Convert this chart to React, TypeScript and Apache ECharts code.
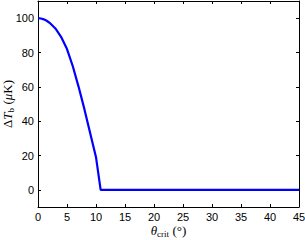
import React, { useEffect, useRef } from "react";
import * as echarts from "echarts";

const theta = [0, 0.5, 1, 1.5, 2, 3, 4, 5, 6, 7, 8, 9, 10, 10.8, 45];
const deltaT = [100, 99.8, 99.3, 98.5, 97.3, 94, 89, 82, 72, 60, 47, 33, 19, 0, 0];
const xTicks = [0, 5, 10, 15, 20, 25, 30, 35, 40, 45];
const yTicks = [0, 20, 40, 60, 80, 100];

export default function App() {
  const ref = useRef<HTMLDivElement>(null);
  useEffect(() => {
    const chart = echarts.init(ref.current!, null, { renderer: "svg" });
    const serif = "'Liberation Serif', 'DejaVu Serif', serif";
    const sans = "'Liberation Sans', Arial, sans-serif";
    const axLine = { show: true, onZero: false, lineStyle: { color: "#000", width: 1 } };
    const tick = { show: true, inside: true, length: 3, lineStyle: { color: "#000", width: 1 } };
    const rich = {
      i: { fontFamily: serif, fontStyle: "italic", fontSize: 13, color: "#000" },
      s: { fontFamily: serif, fontSize: 9, color: "#000", padding: [6, 0, 0, 0] },
      n: { fontFamily: serif, fontSize: 13, color: "#000" },
    };
    chart.setOption({
      animation: false,
      backgroundColor: "#fff",
      grid: { left: 38, right: 6, top: 1, bottom: 33, outerBoundsMode: "none", containLabel: false },
      xAxis: [
        {
          type: "value", min: 0, max: 45, position: "bottom",
          axisLine: axLine,
          axisTick: { ...tick, customValues: xTicks },
          splitLine: { show: false },
          axisLabel: { color: "#000", fontFamily: sans, fontSize: 11, margin: 4, customValues: xTicks },
          name: "{i|θ}{s|crit} {n|(°)}", nameLocation: "middle", nameGap: 16, nameMoveOverlap: false,
          nameTextStyle: { rich },
        },
        {
          type: "value", min: 0, max: 45, position: "top",
          axisLine: axLine,
          axisTick: { ...tick, customValues: xTicks },
          axisLabel: { show: false, customValues: xTicks },
          splitLine: { show: false },
        },
      ],
      yAxis: [
        {
          type: "value", min: -10, max: 110, position: "left",
          axisLine: axLine,
          axisTick: { ...tick, customValues: yTicks },
          axisLabel: { color: "#000", fontFamily: sans, fontSize: 11, margin: 4, customValues: yTicks },
          splitLine: { show: false },
          name: "{n|Δ}{i|T}{s|b} {n|(}{i|μ}{n|K)}", nameLocation: "middle", nameGap: 23, nameRotate: 90,
          nameMoveOverlap: false,
          nameTextStyle: { rich },
        },
        {
          type: "value", min: -10, max: 110, position: "right",
          axisLine: axLine,
          axisTick: { ...tick, customValues: yTicks },
          axisLabel: { show: false, customValues: yTicks },
          splitLine: { show: false },
        },
      ],
      series: [
        {
          type: "line",
          data: theta.map((t, i) => [t, deltaT[i]]),
          showSymbol: false,
          lineStyle: { color: "#0000ff", width: 2.2 },
          xAxisIndex: 0,
          yAxisIndex: 0,
        },
      ],
    });
    return () => chart.dispose();
  }, []);
  return <div ref={ref} style={{ position: "fixed", left: 0, top: 0, width: 305, height: 240 }} />;
}
